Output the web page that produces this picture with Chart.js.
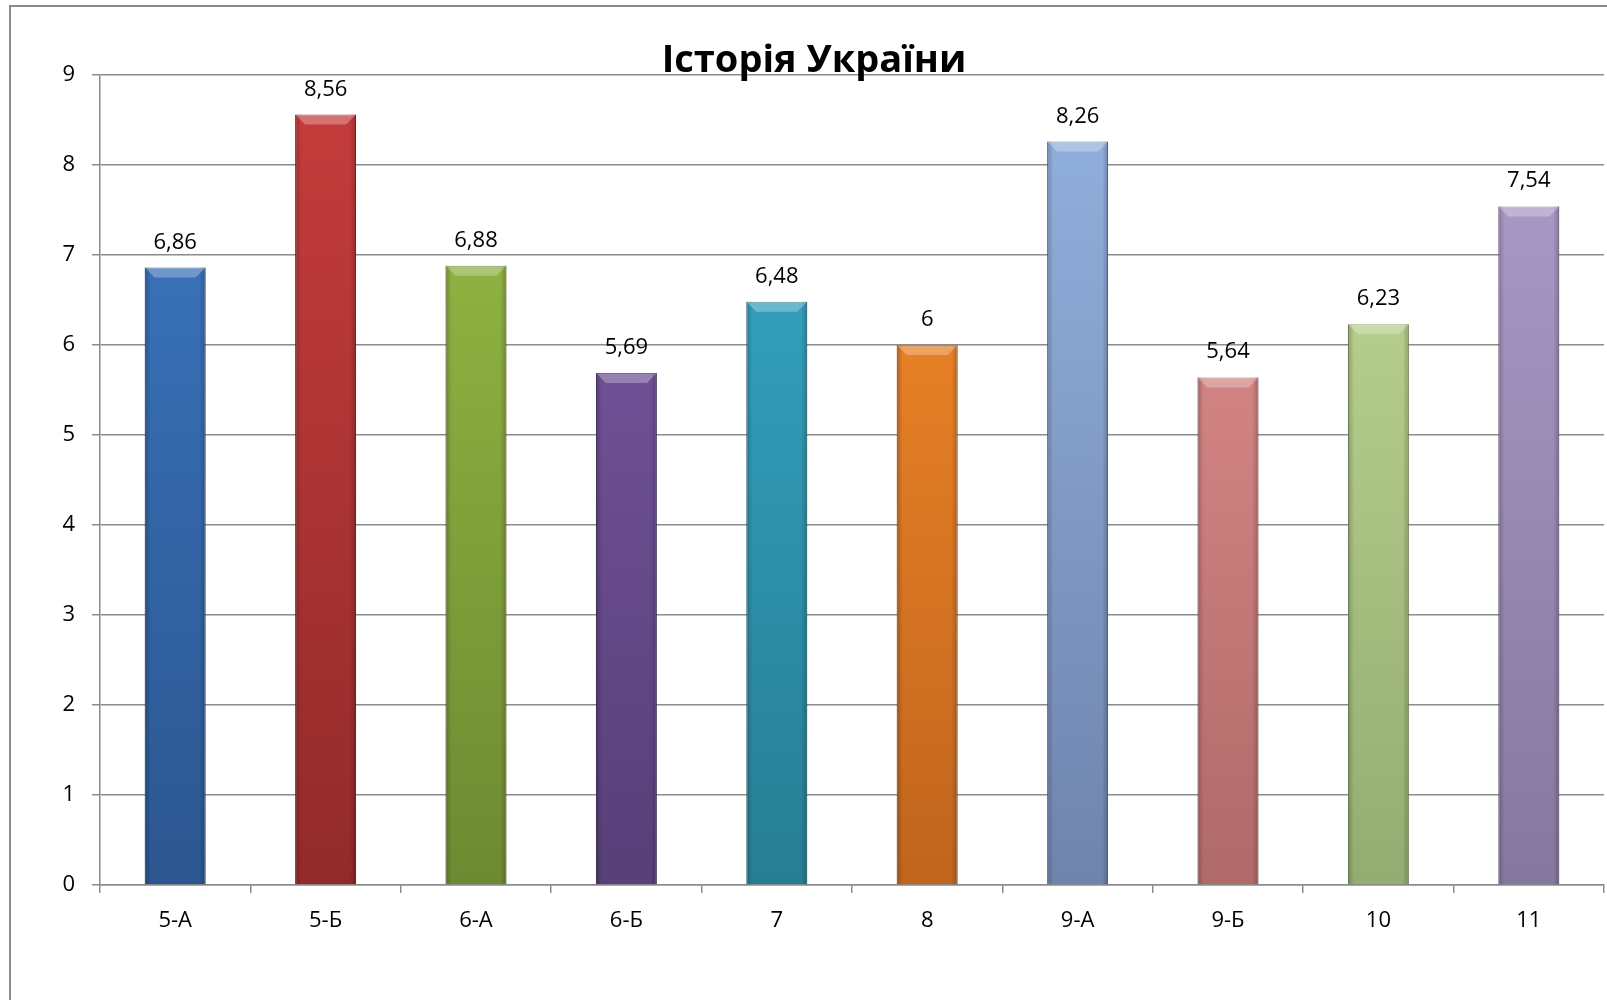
<!DOCTYPE html>
<html>
<head>
<meta charset="utf-8">
<script src="https://cdn.jsdelivr.net/npm/chart.js@4.4.1/dist/chart.umd.min.js"></script>
<style>
  body { margin: 0; background: #fff; overflow: hidden; }
  #frame {
    position: absolute; left: 9px; top: 5px; width: 1700px; height: 1100px;
    border-left: 2px solid #8c8c8c; border-top: 2px solid #8c8c8c;
  }
  #wrap { position: absolute; left: 0; top: 0; width: 1607px; height: 1000px; }
</style>
</head>
<body>
<div id="frame"></div>
<div id="wrap"><canvas id="myChart" width="1607" height="1000"></canvas></div>
<script>
// chart data ++++++++++++++++
const chartTitle = 'Історія України';
const classes = ['5-А', '5-Б', '6-А', '6-Б', '7', '8', '9-А', '9-Б', '10', '11'];
const averages = [6.86, 8.56, 6.88, 5.69, 6.48, 6, 8.26, 5.64, 6.23, 7.54];
const yTicks = [0, 1, 2, 3, 4, 5, 6, 7, 8, 9];

// top and bottom colours of each bar
const topColors = ['#3c78c3', '#c63d3c', '#98bd45', '#7d5aa6', '#38aacb', '#fa8d2a', '#93b2df', '#e69392', '#c4dc97', '#ae9dcb'];
const bottomColors = ['#2c5690', '#922a2a', '#6d8a32', '#573f78', '#267e93', '#c0651e', '#6e84ad', '#b06a69', '#93ac71', '#85789e'];
const edgeColors = ['#24487a', '#7a2222', '#5a7328', '#47325f', '#1f6a7c', '#a2551a', '#5c7196', '#965a59', '#7d945f', '#706487'];

const gray = '#8c8c8c';
const fontName = '"Open Sans", "DejaVu Sans", sans-serif';

// makes the vertical gradient for a bar
function barFill(context){
    const chart = context.chart;
    const area = chart.chartArea;
    if (!area){
        return topColors[context.dataIndex];
    }
    const g = chart.ctx.createLinearGradient(0, area.top, 0, area.bottom);
    g.addColorStop(0, topColors[context.dataIndex]);
    g.addColorStop(1, bottomColors[context.dataIndex]);
    return g;
}

// bevel look: dark side edges and a light top cap, taken from each bar element
const barBevel = {
    id: 'barBevel',
    afterDatasetsDraw(chart){
        const ctx = chart.ctx;
        const meta = chart.getDatasetMeta(0);
        ctx.save();
        meta.data.forEach(bar => {
            const half = bar.width / 2;
            const l = bar.x - half, r = bar.x + half;
            const t = bar.y, b = bar.base;
            const side = ctx.createLinearGradient(l, 0, r, 0);
            side.addColorStop(0, 'rgba(0,0,0,0.22)');
            side.addColorStop(0.1, 'rgba(0,0,0,0)');
            side.addColorStop(0.9, 'rgba(0,0,0,0)');
            side.addColorStop(1, 'rgba(0,0,0,0.22)');
            ctx.fillStyle = side;
            ctx.fillRect(l, t, r - l, b - t);
            const cap = Math.min(10, (b - t) / 2);
            ctx.beginPath();
            ctx.moveTo(l, t);
            ctx.lineTo(r, t);
            ctx.lineTo(r - cap, t + cap);
            ctx.lineTo(l + cap, t + cap);
            ctx.closePath();
            ctx.fillStyle = 'rgba(255,255,255,0.28)';
            ctx.fill();
        });
        ctx.restore();
    }
};

// value labels above the bars
const valueLabels = {
    id: 'valueLabels',
    afterDatasetsDraw(chart){
        const ctx = chart.ctx;
        const meta = chart.getDatasetMeta(0);
        ctx.save();
        ctx.font = '22px ' + fontName;
        ctx.fillStyle = '#000';
        ctx.textAlign = 'center';
        ctx.textBaseline = 'alphabetic';
        meta.data.forEach((bar, i) => {
            const txt = String(averages[i]).replace('.', ',');
            ctx.fillText(txt, bar.x, bar.y - 19);
        });
        ctx.restore();
    }
};

// title sits over the top gridline, like in the original
const chartHeader = {
    id: 'chartHeader',
    afterDraw(chart){
        const ctx = chart.ctx;
        ctx.save();
        ctx.font = 'bold 38px ' + fontName;
        ctx.fillStyle = '#000';
        ctx.textAlign = 'center';
        ctx.textBaseline = 'alphabetic';
        ctx.fillText(chartTitle, 814, chart.chartArea.top - 3);
        ctx.restore();
    }
};

const ctx = document.getElementById('myChart').getContext('2d');
const myChart = new Chart(ctx, {
    type: 'bar',
    data: {
        labels: classes,
        datasets: [{
            data: averages,
            backgroundColor: barFill,
            borderColor: edgeColors,
            borderWidth: 1,
            categoryPercentage: 1,
            barPercentage: 0.405
        }]
    },
    options: {
        responsive: false,
        animation: false,
        layout: { padding: { top: 75, right: 3, bottom: 0, left: 0 } },
        plugins: {
            legend: { display: false },
            tooltip: { enabled: false }
        },
        scales: {
            x: {
                afterFit(scale){ scale.height = 115; },
                grid: {
                    drawOnChartArea: false,
                    drawTicks: true,
                    tickLength: 8,
                    color: gray,
                    lineWidth: 1.5
                },
                border: { display: true, color: gray, width: 1.5 },
                ticks: {
                    color: '#000',
                    padding: 15,
                    font: { family: fontName, size: 22 }
                }
            },
            y: {
                min: 0,
                max: 9,
                afterFit(scale){ scale.width = 100; },
                afterBuildTicks(scale){
                    scale.ticks = yTicks.map(v => ({ value: v }));
                },
                grid: {
                    color: gray,
                    lineWidth: 1.5,
                    tickLength: 8
                },
                border: { display: true, color: gray, width: 1.5 },
                ticks: {
                    color: '#000',
                    padding: 17,
                    font: { family: fontName, size: 22 }
                }
            }
        }
    },
    plugins: [barBevel, valueLabels, chartHeader]
});
</script>
</body>
</html>
